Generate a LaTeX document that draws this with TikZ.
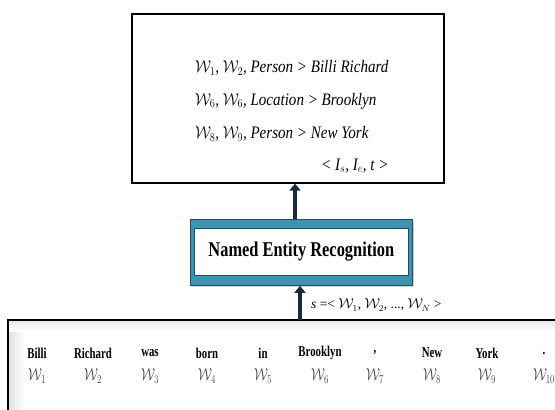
\documentclass[tikz,border=0pt]{standalone}
\usepackage{fontspec}
\setmainfont{Liberation Serif}
\usetikzlibrary{shadows,arrows.meta}
\definecolor{arrowdark}{HTML}{1B2A3E}
\definecolor{nerteal}{HTML}{3E93AE}
\definecolor{nerdark}{HTML}{1F4F63}
\tikzset{
  panel/.style={draw=black, line width=1.6pt, fill=white},
  flowarrow/.style={draw=arrowdark, line width=4.5pt, -{Triangle[length=7pt,width=11pt]}},
  entline/.style={anchor=west, font=\fontsize{17.5}{20}\selectfont\itshape, inner sep=0pt, xscale=0.86},
  wordlbl/.style={font=\fontsize{15}{17}\selectfont\bfseries, inner sep=0pt, xscale=0.72},
  wordsym/.style={font=\fontsize{17}{19}\selectfont, inner sep=0pt, xscale=0.75, text=black!75}
}
\begin{document}
\begin{tikzpicture}[x=1pt,y=-1pt]
\useasboundingbox (0,0) rectangle (555,410);

% output box with the recognised entities
\node[panel, drop shadow={shadow xshift=1.5pt, shadow yshift=-1.5pt, opacity=0.5},
      minimum width=312pt, minimum height=169pt, anchor=north west, inner sep=0pt]
      (out) at (131,13) {};
\node[entline] (e1) at (195,68) {$\mathcal{W}_{1}$, $\mathcal{W}_{2}$, Person > Billi Richard};
\node[entline] (e2) at (195,101) {$\mathcal{W}_{6}$, $\mathcal{W}_{6}$, Location > Brooklyn};
\node[entline] (e3) at (195,134) {$\mathcal{W}_{8}$, $\mathcal{W}_{9}$, Person > New York};
\node[entline] (e4) at (321,166) {< \textit{I}$_{s}$, \textit{I}$_{e}$, \textit{t} >};

% recogniser box
\node[draw=nerdark, line width=0.8pt, fill=nerteal,
      drop shadow={shadow xshift=2pt, shadow yshift=-2pt, opacity=0.35},
      minimum width=222pt, minimum height=66pt, anchor=north west, inner sep=0pt]
      (nerout) at (190,219) {};
\node[draw=nerdark, line width=0.6pt, fill=white,
      minimum width=214pt, minimum height=47pt, anchor=north west, inner sep=0pt]
      (ner) at (194,228) {};
\node[font=\fontsize{21}{24}\selectfont\bfseries, xscale=0.78] (nerlbl) at (ner.center) {Named Entity Recognition};

% input sentence box, running past the right and lower edges
\coordinate (in) at (8,320);
\shade[left color=black!12, right color=white] (in) rectangle ++(16,90);
\shade[top color=black!10, bottom color=white] (in) rectangle (555,331);
\draw[black, line width=1.5pt] (in |- 0,410) -- (in) -- (555,320);

% connectors
\coordinate (a1) at (295,0);
\draw[flowarrow] (nerout.north -| a1) -- (out.south -| a1);
\coordinate (a2) at (300,0);
\draw[flowarrow] (in -| a2) -- (nerout.south -| a2);

\node[anchor=west, font=\fontsize{13.5}{16}\selectfont, inner sep=0pt] (slbl) at (311,305)
  {\textit{s} =< $\mathcal{W}_{1}$, $\mathcal{W}_{2}$, ..., $\mathcal{W}_{N}$ >};

% words and their symbols
\foreach \x/\w/\i in {37/Billi/1, 93/Richard/2, 150/was/3, 207/born/4, 263/in/5,
                      320/Brooklyn/6, 375/{,}/7, 432/New/8, 487/York/9, 544/./10} {
  \node[wordlbl] (w\i) at (\x,353) {\w};
  \node[wordsym] (s\i) at (\x,376) {$\mathcal{W}_{\i}$};
}
\end{tikzpicture}
\end{document}
